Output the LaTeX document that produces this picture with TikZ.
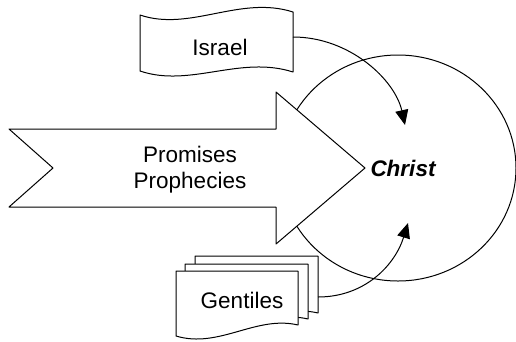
\documentclass[tikz,border=0pt]{standalone}
\usepackage{fontspec}
\setmainfont{Liberation Sans}
\usetikzlibrary{arrows.meta}
\begin{document}
\begin{tikzpicture}[x=1pt,y=-1pt,line join=round,
  shapeline/.style={draw=black,line width=1pt,fill=white},
  conn/.style={draw=black,line width=1pt,-{Triangle[length=15pt,width=13pt]}},
  lbl/.style={font=\fontsize{22.5}{26}\selectfont,inner sep=0pt,align=center}]
\useasboundingbox (0,0) rectangle (516,341);
% Christ circle
\draw[line width=1pt] (398,168) ellipse [x radius=118, y radius=113];
\node[lbl,font=\fontsize{22.5}{26}\selectfont\bfseries\itshape] (christ) at (403,168) {Christ};
% big arrow
\path[shapeline] (9,129) -- (53,168) -- (9,207) -- (276,207) -- (276,244) -- (365,168) -- (276,92) -- (276,129) -- cycle;
\node[lbl] (prom) at (190,170) {Promises\\Prophecies};
% Israel tape
\path[shapeline] (140,15) .. controls (190,32) and (240,-5) .. (293,12) -- (293,72)
  .. controls (240,55) and (190,88) .. (140,71) -- cycle;
\node[lbl] (israel) at (220,47) {Israel};
\coordinate (israelR) at (293,37);
% Gentiles documents
\path[shapeline] (195,256) -- (318,256) -- (318,313) .. controls (276,303) and (238,335) .. (195,322) -- cycle;
\path[shapeline] (185,264) -- (308,264) -- (308,319) .. controls (266,309) and (228,342) .. (185,329) -- cycle;
\path[shapeline] (176,271) -- (298,271) -- (298,325) .. controls (256,315) and (219,349) .. (176,336) -- cycle;
\node[lbl] (gentiles) at (242,300) {Gentiles};
\coordinate (gentilesR) at (318,297);
% connectors
\coordinate (tipA) at (405,125);
\coordinate (tipB) at (408,223);
\draw[conn] (israelR) .. controls (350,37) and (395,80) .. (tipA);
\draw[conn] (gentilesR) .. controls (365,297) and (395,265) .. (tipB);
\end{tikzpicture}
\end{document}
